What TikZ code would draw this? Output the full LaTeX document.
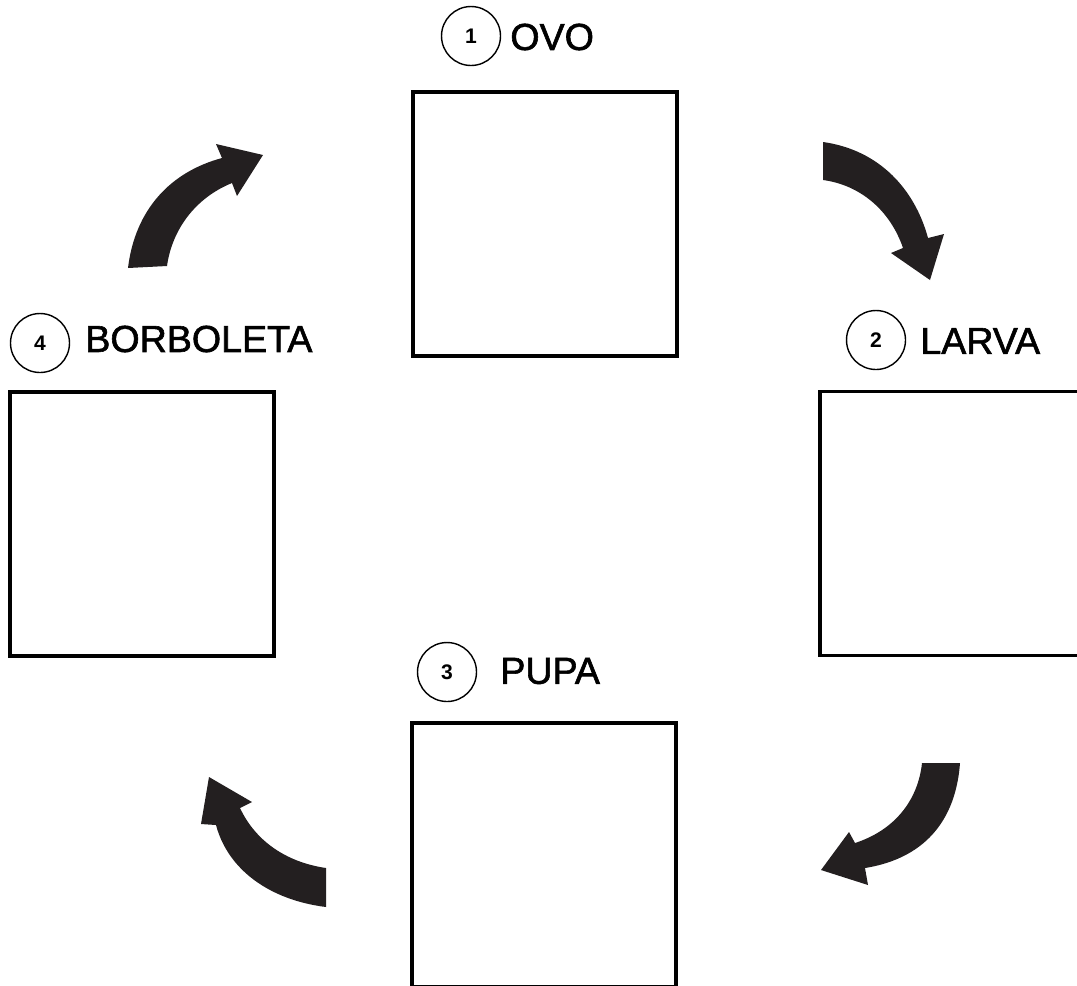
\documentclass[tikz,border=0pt]{standalone}
\usepackage{fontspec}
\setmainfont{Liberation Sans}
\newfontfamily\stagefont[FakeBold=1.6]{Liberation Sans}
\usepackage{tikz}
\usetikzlibrary{arrows,arrows.meta}

\definecolor{arrowblack}{RGB}{35,31,32}

\begin{document}
\begin{tikzpicture}[
x=0.02cm, y=-0.02cm,
stagebox/.style={draw, line width=1.9pt, minimum size=5.28cm, inner sep=0pt},
numcircle/.style={draw, circle, line width=0.8pt, minimum size=1.18cm, inner sep=0pt, font=\fontsize{12}{14}\selectfont\bfseries},
stagename/.style={anchor=west, inner sep=0pt, font=\fontsize{21.4}{25}\selectfont\stagefont},
bigarrow/.style={fill=arrowblack} ]

\clip (0,0) rectangle (1077,985);

% boxes
\node[stagebox] (ovo) at (545,224) {};

\node[stagebox] (larva) at (952,523.5) {};

\node[stagebox] (pupa) at (544,855) {};

\node[stagebox] (borboleta) at (142,524) {};

% titles
\node[numcircle] (n1) at (471,36) {1};
\node[stagename] (t1) at (510,37) {OVO};

\node[numcircle] (n2) at (876,340) {2};
\node[stagename] (t2) at (920,341) {LARVA};

\node[numcircle] (n3) at (447,672) {3};
\node[stagename] (t3) at (500,671) {PUPA};

\node[numcircle] (n4) at (40,343) {4};
\node[stagename] (t4) at (85,339) {BORBOLETA};

% curved arrows
\fill[bigarrow] (128,268) .. controls (135,210) and (170,172) .. (222,158)
  -- (216,144) -- (263,155) -- (237,196) -- (232,183)
  .. controls (195,198) and (172,230) .. (167,266) -- cycle;

\fill[bigarrow] (823,142) .. controls (880,150) and (915,190) .. (928,238)
  -- (944,234) -- (930,280) -- (891,253) -- (903,248)
  .. controls (890,210) and (860,185) .. (823,180) -- cycle;

\fill[bigarrow] (960,763) .. controls (955,830) and (915,860) .. (865,868)
  -- (868,885) -- (821,870) -- (849,832) -- (855,843)
  .. controls (895,830) and (918,800) .. (922,763) -- cycle;

\fill[bigarrow] (326,907) .. controls (270,900) and (228,870) .. (216,825)
  -- (201,824) -- (209,777) -- (252,802) -- (240,808)
  .. controls (255,840) and (285,862) .. (326,868) -- cycle;

\end{tikzpicture}
\end{document}
